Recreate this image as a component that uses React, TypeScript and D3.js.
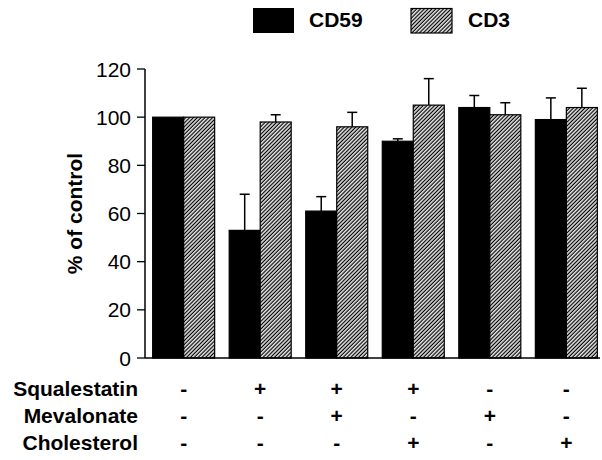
import React from "react";
import * as d3 from "d3";

const groups = ["g1", "g2", "g3", "g4", "g5", "g6"];
const series = ["CD59", "CD3"];
const cd59Values = [100, 53, 61, 90, 104, 99];
const cd59Errors = [0, 15, 6, 1, 5, 9];
const cd3Values = [100, 98, 96, 105, 101, 104];
const cd3Errors = [0, 3, 6, 11, 5, 8];
const yTicks = [0, 20, 40, 60, 80, 100, 120];
const treatments = ["Squalestatin", "Mevalonate", "Cholesterol"];
const squalestatin = ["-", "+", "+", "+", "-", "-"];
const mevalonate = ["-", "-", "+", "-", "+", "-"];
const cholesterol = ["-", "-", "-", "+", "-", "+"];

const W = 602;
const H = 460;
const FONT = "'Liberation Sans', Arial, Helvetica, sans-serif";

export default function App() {
  const x0 = d3.scaleBand<string>().domain(groups).range([145, 605]).paddingInner(0.19).paddingOuter(0.1);
  const x1 = d3.scaleBand<string>().domain(series).range([0, x0.bandwidth()]);
  const y = d3.scaleLinear().domain([0, 120]).range([358, 69]);

  const data = [
    { name: "CD59", values: cd59Values, errors: cd59Errors },
    { name: "CD3", values: cd3Values, errors: cd3Errors },
  ];
  const rows = [squalestatin, mevalonate, cholesterol];
  const rowY = [396, 423, 450];

  return (
    <svg width={W} height={H} style={{ position: "absolute", left: 0, top: 0, background: "#fff" }}>
      <defs>
        <pattern id="hatch" patternUnits="userSpaceOnUse" width="2.7" height="2.7" patternTransform="rotate(45)">
          <rect width="2.7" height="2.7" fill="#fff" />
          <rect x="0.6" y="0" width="1.3" height="2.7" fill="#000" />
        </pattern>
      </defs>
      <rect width={W} height={H} fill="#fff" />

      {/* legend */}
      <rect x={253} y={8} width={41} height={25} fill="#000" />
      <text x={309} y={27} fontFamily={FONT} fontWeight="bold" fontSize={21}>CD59</text>
      <rect x={411} y={8.5} width={41} height={24.5} fill="url(#hatch)" stroke="#000" strokeWidth={1.2} />
      <text x={468} y={27} fontFamily={FONT} fontWeight="bold" fontSize={21}>CD3</text>

      {/* bars */}
      {data.map((s) =>
        groups.map((g, i) => {
          const bx = (x0(g) as number) + (x1(s.name) as number);
          const bw = x1.bandwidth();
          const top = y(s.values[i]);
          const cx = bx + bw / 2;
          const et = y(s.values[i] + s.errors[i]);
          return (
            <g key={s.name + g}>
              {s.errors[i] > 0 && (
                <g stroke="#000" strokeWidth={1.5}>
                  <line x1={cx} x2={cx} y1={top} y2={et} />
                  <line x1={cx - 5} x2={cx + 5} y1={et} y2={et} />
                </g>
              )}
              <rect
                x={bx}
                y={top}
                width={bw}
                height={y(0) - top}
                fill={s.name === "CD59" ? "#000" : "url(#hatch)"}
                stroke="#000"
                strokeWidth={1.2}
              />
            </g>
          );
        })
      )}

      {/* axes */}
      <line x1={145} x2={145} y1={y(120)} y2={y(0)} stroke="#000" strokeWidth={1.5} />
      <line x1={145} x2={600} y1={y(0)} y2={y(0)} stroke="#000" strokeWidth={1.5} />
      {yTicks.map((t) => (
        <g key={t}>
          <line x1={137} x2={145} y1={y(t)} y2={y(t)} stroke="#000" strokeWidth={1.3} />
          <text x={131} y={y(t)} dy="0.36em" textAnchor="end" fontFamily={FONT} fontSize={21}>
            {t}
          </text>
        </g>
      ))}
      <text
        transform={`translate(82, ${(y(0) + y(120)) / 2}) rotate(-90)`}
        textAnchor="middle"
        fontFamily={FONT}
        fontWeight="bold"
        fontSize={21}
      >
        % of control
      </text>

      {/* treatment table */}
      {treatments.map((t, r) => (
        <g key={t}>
          <text x={138} y={rowY[r]} textAnchor="end" fontFamily={FONT} fontWeight="bold" fontSize={21}>
            {t}
          </text>
          {rows[r].map((sym, i) => (
            <text
              key={i}
              x={(x0(groups[i]) as number) + x0.bandwidth() / 2}
              y={rowY[r]}
              textAnchor="middle"
              fontFamily={FONT}
              fontWeight="bold"
              fontSize={21}
            >
              {sym}
            </text>
          ))}
        </g>
      ))}
    </svg>
  );
}
